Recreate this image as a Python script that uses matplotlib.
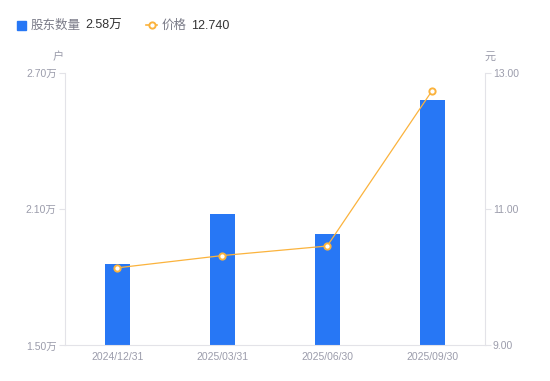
import numpy as np
import matplotlib.pyplot as plt

plt.rcParams['font.family'] = ['Liberation Sans', 'Noto Sans CJK SC', 'DejaVu Sans']

# data
dates = ['2024/12/31', '2025/03/31', '2025/06/30', '2025/09/30']
holders = [1.859, 2.078, 1.990, 2.58]   # 万户
price = [10.14, 10.32, 10.46, 12.74]    # 元
left_ticks = [1.50, 2.10, 2.70]
right_ticks = [9.00, 11.00, 13.00]

blue = '#2777f5'
orange = '#fbb33d'
grid_c = '#e3e3e8'
tick_c = '#9b9cab'

fig = plt.figure(figsize=(5.5, 3.81), dpi=100)
ax = fig.add_axes([0.118, 0.0932, 0.763, 0.7152])
ax2 = ax.twinx()

x = np.arange(len(dates))
ax.bar(x, holders, width=0.24, color=blue, zorder=2)
ax.set_xlim(-0.5, len(dates) - 0.5)
ax.set_ylim(1.5, 2.7)
ax.set_yticks(left_ticks)
ax.set_yticklabels(['%.2f万' % v for v in left_ticks])
ax.set_xticks(x)
ax.set_xticklabels(dates)

ax2.plot(x, price, color=orange, lw=0.9, marker='o', ms=4.5,
         mfc='white', mec=orange, mew=1.4, zorder=3)
ax2.set_ylim(9, 13)
ax2.set_yticks(right_ticks)
ax2.set_yticklabels(['%.2f' % v for v in right_ticks])

for a in (ax, ax2):
    for s in a.spines.values():
        s.set_visible(False)
    a.tick_params(colors=tick_c, labelsize=7.5, length=4, width=0.8, color=grid_c, pad=2)
ax.spines['left'].set_visible(True)
ax.spines['left'].set_color(grid_c)
ax.spines['bottom'].set_visible(True)
ax.spines['bottom'].set_color(grid_c)
ax2.spines['right'].set_visible(True)
ax2.spines['right'].set_color(grid_c)
ax.tick_params(axis='x', length=0, pad=5)

# units
fig.text(58 / 550, 1 - 57 / 381, '户', color=tick_c, fontsize=8, ha='center', va='center')
fig.text(490 / 550, 1 - 57 / 381, '元', color=tick_c, fontsize=8, ha='center', va='center')

# legend
ly = 1 - 25 / 381
ty = 1 - 26 / 381
fig.patches.append(plt.Rectangle((16.5 / 550, 1 - 29.5 / 381), 9 / 550, 9 / 381,
                                 transform=fig.transFigure, color=blue, figure=fig))
fig.text(31 / 550, ty, '股东数量', color='#7a7b88', fontsize=9, va='center')
fig.text(85 / 550, ty, '2.58万', color='#333333', fontsize=9, va='center')
fig.lines.append(plt.Line2D([146 / 550, 157 / 550], [ly, ly], transform=fig.transFigure,
                            color=orange, lw=1.2))
fig.lines.append(plt.Line2D([151.5 / 550], [ly], transform=fig.transFigure, color=orange,
                            marker='o', ms=4.5, mfc='white', mec=orange, mew=1.4))
fig.text(161.5 / 550, ty, '价格', color='#7a7b88', fontsize=9, va='center')
fig.text(191.5 / 550, ty, '12.740', color='#333333', fontsize=9, va='center')

fig.savefig('out.png', dpi=100)
